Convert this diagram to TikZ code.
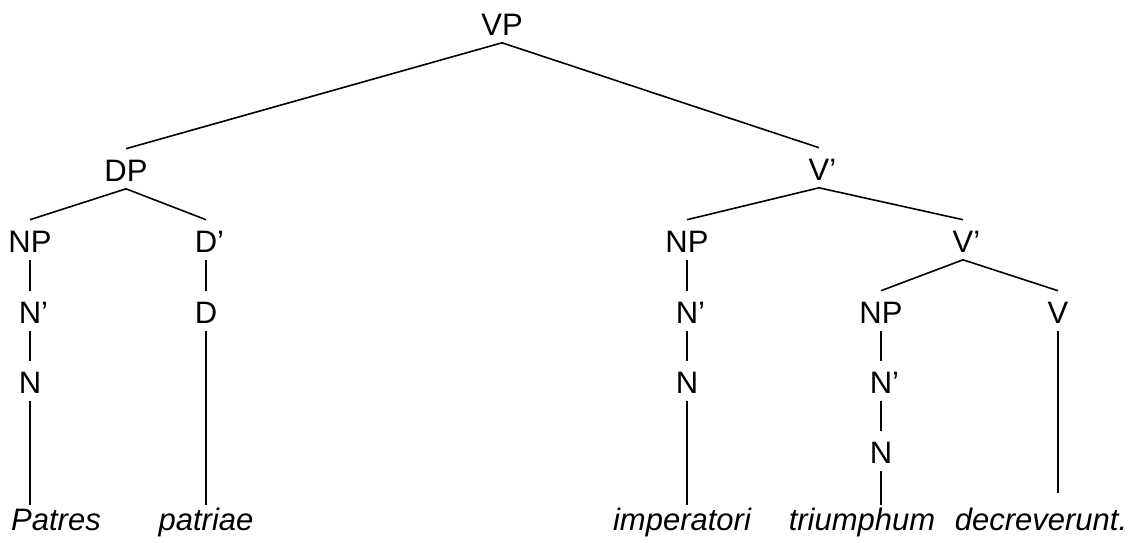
\documentclass[tikz,border=0pt]{standalone}
\usepackage{fontspec}
\setmainfont{Liberation Sans}
\newcommand{\barlev}[1]{#1\rlap{'}}

\begin{document}
\begin{tikzpicture}[x=1pt,y=-1pt,line width=1.6pt,
	cat/.style={font=\fontsize{31}{37}\selectfont,anchor=base,inner sep=0pt,text height=31.5pt,text depth=7pt},
	leaf/.style={font=\fontsize{31}{37}\selectfont\itshape,anchor=base,inner sep=0pt,text height=24pt,text depth=0pt}]
	\useasboundingbox (0,0) rectangle (1131,542);
	%
	\node[cat] (vp) at (502,35) {VP};
	\node[cat] (dp) at (126,181) {DP};
	\node[cat] (vb1) at (819,180) {\barlev{V}};
	\node[cat] (np1) at (30,252) {NP};
	\node[cat] (db) at (206,252) {\barlev{D}};
	\node[cat] (nb1) at (30,323) {\barlev{N}};
	\node[cat] (d) at (206,323) {D};
	\node[cat] (n1) at (30,393) {N};
	\node[cat] (np2) at (687,252) {NP};
	\node[cat] (vb2) at (963,252) {\barlev{V}};
	\node[cat] (nb2) at (687,323) {\barlev{N}};
	\node[cat] (n2) at (687,393) {N};
	\node[cat] (np3) at (881,323) {NP};
	\node[cat] (v) at (1058,323) {V};
	\node[cat] (nb3) at (881,393) {\barlev{N}};
	\node[cat] (n3) at (881,463) {N};
	%
	\node[leaf] (patres) at (56,530) {Patres};
	\node[leaf] (patriae) at (206,530) {patriae};
	\node[leaf] (imperatori) at (682,530) {imperatori};
	\node[leaf] (triumphum) at (862,530) {triumphum};
	\node[leaf] (decreverunt) at (1041,530) {decreverunt.};
	%
	\draw (vp.south) -- (dp.north);
	\draw (vp.south) -- (vb1.north);
	\draw (dp.south) -- (np1.north);
	\draw (dp.south) -- (db.north);
	\draw (np1.south) -- (nb1.north);
	\draw (nb1.south) -- (n1.north);
	\draw (db.south) -- (d.north);
	\draw (vb1.south) -- (np2.north);
	\draw (vb1.south) -- (vb2.north);
	\draw (np2.south) -- (nb2.north);
	\draw (nb2.south) -- (n2.north);
	\draw (vb2.south) -- (np3.north);
	\draw (vb2.south) -- (v.north);
	\draw (np3.south) -- (nb3.north);
	\draw (nb3.south) -- (n3.north);
	%
	\draw (n1.south) -- (n1.south |- patres.north);
	\draw (d.south) -- (d.south |- patriae.north);
	\draw (n2.south) -- (n2.south |- imperatori.north);
	\draw (n3.south) -- (n3.south |- triumphum.north);
	\draw[shorten >=12pt] (v.south) -- (v.south |- decreverunt.north);
\end{tikzpicture}
\end{document}
